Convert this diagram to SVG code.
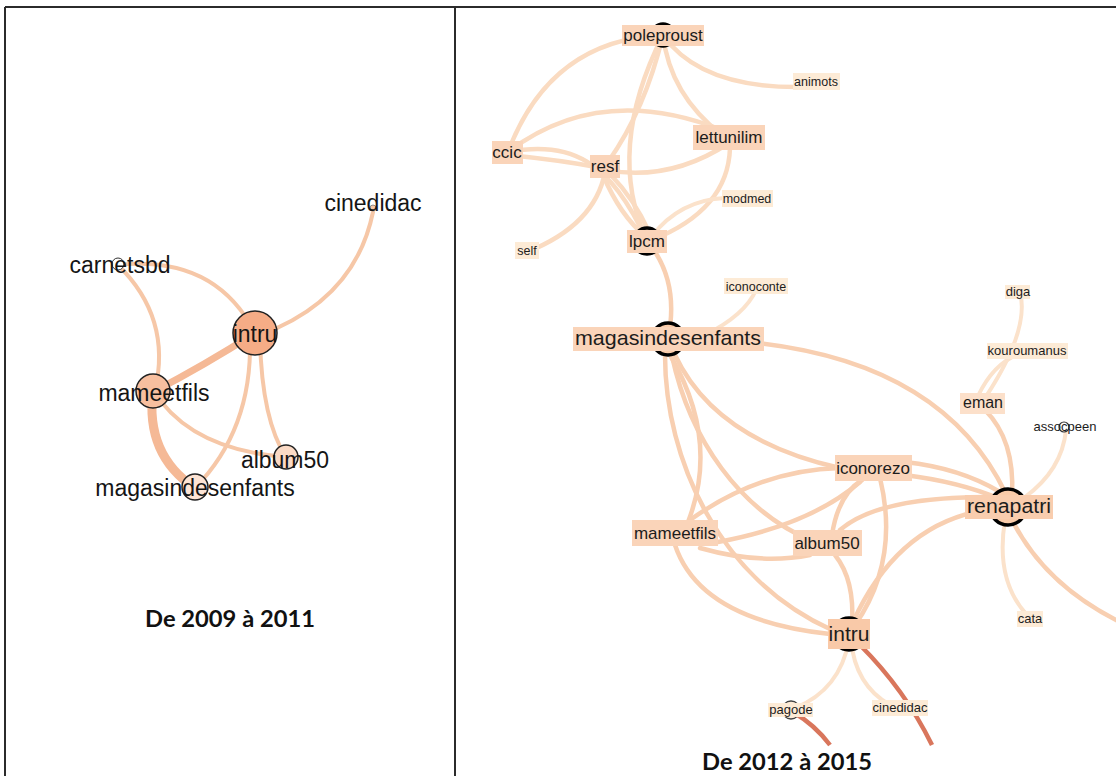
<svg xmlns="http://www.w3.org/2000/svg" width="1116" height="776" viewBox="0 0 1116 776">
<style>
.frame{stroke:#2b2b2b;stroke-width:2;fill:none}
.le{fill:none;stroke:#f6c7a7;stroke-width:4;stroke-linecap:round}
.lt{fill:none;stroke:#f5b996;stroke-linecap:round}
.ln{stroke:#222;stroke-width:1.5}
.lbl{font-family:"Liberation Sans",Arial,sans-serif;font-size:23px;fill:#151515;text-anchor:middle}
.title{font-family:Lato,"Open Sans",sans-serif;font-weight:700;font-size:22px;fill:#111;text-anchor:middle}
.et{fill:none;stroke:#fadbc1;stroke-width:4.5;stroke-linecap:round}
.em{fill:none;stroke:#f8cfb1;stroke-width:4.5;stroke-linecap:round}
.es{fill:none;stroke:#fbe2cb;stroke-width:4;stroke-linecap:round}
.ed{fill:none;stroke:#d9765c;stroke-width:4.5;stroke-linecap:butt}
.big{fill:#f9cba9;stroke:#000;stroke-width:3.5}
.b1{fill:#fad4b9}
.b2{fill:#fdebd6}
.b3{fill:#fce0ca}
.t{font-family:"Liberation Sans",Arial,sans-serif;fill:#1c1c1c;text-anchor:middle}
.tm{font-size:17px}
.ts{font-size:12.5px}
.tl{font-size:21px}
</style>

<g id="frame">
<line class="frame" x1="5" y1="7" x2="1116" y2="7"/>
<line class="frame" x1="5" y1="7" x2="5" y2="776"/>
<line class="frame" x1="455" y1="7" x2="455" y2="776"/>
</g>

<!-- LEFT PANEL 2009-2011 -->
<g id="left-connectors">
<path class="le" d="M118,265 Q215,255 255,333"/>
<path class="le" d="M118,265 Q172,318 155,390"/>
<path class="le" d="M373,212 Q355,300 260,335"/>
<path class="le" d="M153,390 Q190,450 286,457"/>
<path class="le" d="M250,340 Q252,430 195,488"/>
<path class="le" d="M260,340 Q262,420 286,457"/>
<path class="lt" stroke-width="7" d="M255,333 Q205,365 153,392"/>
<path class="lt" stroke-width="9" stroke="#f6c2a1" d="M153,390 Q145,455 195,488"/>
</g>

<g id="l-intru"><circle class="ln" cx="255" cy="333" r="22" fill="#f5ac86"/><text class="lbl" x="255" y="342">intru</text></g>
<g id="l-mameetfils"><circle class="ln" cx="153" cy="391" r="17" fill="#f7bf9f"/><text class="lbl" x="154" y="401">mameetfils</text></g>
<g id="l-album50"><circle class="ln" cx="286" cy="457" r="12" fill="#fbdac5"/><text class="lbl" x="285" y="468">album50</text></g>
<g id="l-magasindesenfants"><circle class="ln" cx="195" cy="487" r="13" fill="#fde4d4"/><text class="lbl" x="195" y="496">magasindesenfants</text></g>
<g id="l-carnetsbd"><circle cx="118" cy="264" r="6" fill="#fff" stroke="#333" stroke-width="1"/><text class="lbl" x="120" y="273">carnetsbd</text></g>
<g id="l-cinedidac"><circle cx="373" cy="208" r="3" fill="#f6c7a7" stroke="#777" stroke-width="0.8"/><text class="lbl" x="373" y="211">cinedidac</text></g>

<text class="title" x="230" y="627" textLength="170" lengthAdjust="spacingAndGlyphs">De 2009 à 2011</text>

<!-- RIGHT PANEL 2012-2015 -->
<g id="connectors">
<path class="et" d="M663,35 Q550,40 508,152"/>
<path class="et" d="M663,35 Q700,88 800,87"/>
<path class="et" d="M663,35 Q645,110 608,162"/>
<path class="et" d="M663,35 Q605,150 647,241"/>
<path class="et" d="M663,35 Q670,95 722,135"/>
<path class="et" d="M508,152 Q600,82 722,130"/>
<path class="et" d="M508,152 C570,140 610,160 647,241"/>
<path class="et" d="M508,155 Q560,160 602,168"/>
<path class="et" d="M605,170 Q670,182 729,143"/>
<path class="et" d="M603,175 Q620,215 645,236"/>
<path class="et" d="M610,174 Q635,200 649,232"/>
<path class="et" d="M605,172 Q595,225 527,252"/>
<path class="et" d="M730,148 Q728,210 652,240"/>
<path class="es" d="M725,198 Q680,200 652,236"/>
<path class="em" d="M647,241 Q680,280 668,339"/>
<path class="es" d="M756,290 Q745,315 705,335"/>
<path class="em" d="M668,339 Q930,335 1006,494"/>
<path class="em" d="M675,355 Q715,440 840,468"/>
<path class="em" d="M670,355 Q720,440 688,522"/>
<path class="em" d="M672,356 C690,440 740,510 810,540"/>
<path class="em" d="M665,355 C665,460 720,580 832,630"/>
<path class="em" d="M690,520 Q760,470 840,468"/>
<path class="em" d="M718,542 Q810,525 860,482"/>
<path class="em" d="M700,548 Q760,565 810,555"/>
<path class="em" d="M675,545 Q700,620 830,634"/>
<path class="em" d="M832,535 Q838,495 862,480"/>
<path class="em" d="M840,530 Q880,495 1000,497"/>
<path class="em" d="M905,462 Q960,468 1000,492"/>
<path class="em" d="M905,475 Q960,482 1000,499"/>
<path class="em" d="M880,478 Q900,560 855,625"/>
<path class="em" d="M835,555 Q855,580 852,625"/>
<path class="em" stroke="#f6c19f" stroke-width="5" d="M853,622 Q895,530 975,512"/>
<path class="em" d="M1012,495 Q1015,440 985,410"/>
<path class="es" d="M1025,497 Q1062,470 1066,430"/>
<path class="es" d="M1005,520 Q995,580 1027,615"/>
<path class="em" d="M1012,520 Q1045,585 1120,622"/>
<path class="es" d="M985,398 Q1030,330 1020,292"/>
<path class="es" d="M978,396 Q995,360 1025,352"/>
<path class="es" d="M849,640 Q840,690 795,708"/>
<path class="es" d="M851,640 Q855,685 890,705"/>
<path class="ed" d="M860,645 Q905,690 932,745"/>
<path class="ed" d="M793,712 Q815,725 830,745"/>
</g>

<g id="n-poleproust"><circle class="big" cx="663" cy="35" r="11"/><rect class="b1" x="622" y="25" width="82" height="21"/><text class="t tm" x="663" y="41">poleproust</text></g>
<g id="n-animots"><rect class="b2" x="793" y="73" width="47" height="17"/><text class="t ts" x="816" y="86">animots</text></g>
<g id="n-ccic"><rect class="b1" x="492" y="141" width="31" height="23"/><text class="t tm" x="507" y="158">ccic</text></g>
<g id="n-lettunilim"><rect class="b1" x="693" y="125" width="72" height="25"/><text class="t tm" x="729" y="143">lettunilim</text></g>
<g id="n-resf"><rect class="b1" x="590" y="155" width="30" height="23"/><text class="t tm" x="605" y="172">resf</text></g>
<g id="n-modmed"><rect class="b2" x="722" y="190" width="51" height="17"/><text class="t ts" x="747" y="203">modmed</text></g>
<g id="n-self"><rect class="b2" x="515" y="242" width="24" height="17"/><text class="t ts" x="527" y="255">self</text></g>
<g id="n-lpcm"><circle class="big" cx="647" cy="241" r="13"/><rect class="b1" x="627" y="230" width="40" height="23"/><text class="t tm" x="647" y="247">lpcm</text></g>
<g id="n-iconoconte"><rect class="b2" x="724" y="278" width="64" height="16"/><text class="t ts" x="756" y="291">iconoconte</text></g>
<g id="n-magasindesenfants"><circle class="big" cx="668" cy="339" r="16"/><rect class="b1" x="573" y="327" width="191" height="24"/><text class="t tl" x="668" y="345" textLength="186" lengthAdjust="spacingAndGlyphs">magasindesenfants</text></g>
<g id="n-iconorezo"><rect class="b1" x="835" y="455" width="77" height="26"/><text class="t tm" x="873" y="474">iconorezo</text></g>
<g id="n-mameetfils"><rect class="b1" x="632" y="520" width="86" height="26"/><text class="t tm" x="675" y="539">mameetfils</text></g>
<g id="n-album50"><rect class="b1" x="793" y="530" width="69" height="26"/><text class="t tm" x="827" y="549">album50</text></g>
<g id="n-intru"><circle class="big" cx="849" cy="634" r="16"/><rect x="828" y="619" width="42" height="30" fill="#f9c9a8"/><text class="t tl" x="849" y="641">intru</text></g>
<g id="n-renapatri"><circle class="big" cx="1008" cy="507" r="18"/><rect x="965" y="495" width="88" height="24" fill="#f9cdae"/><text class="t" font-size="20" x="1009" y="513" textLength="84" lengthAdjust="spacingAndGlyphs">renapatri</text></g>
<g id="n-eman"><rect class="b3" x="960" y="393" width="45" height="21"/><text class="t" font-size="16" x="983" y="408">eman</text></g>
<g id="n-kouroumanus"><rect class="b2" x="987" y="343" width="81" height="16"/><text class="t" font-size="13" x="1027" y="355">kouroumanus</text></g>
<g id="n-diga"><rect class="b2" x="1005" y="285" width="25" height="14"/><text class="t" font-size="13" x="1018" y="296">diga</text></g>
<g id="n-assocpeen"><circle cx="1064" cy="427" r="5" fill="#fff" stroke="#333" stroke-width="1.2"/><text class="t" font-size="13" x="1065" y="431">assocpeen</text></g>
<g id="n-cata"><rect class="b2" x="1017" y="611" width="26" height="16"/><text class="t" font-size="13" x="1030" y="623">cata</text></g>
<g id="n-pagode"><circle cx="791" cy="710" r="9" fill="#fdebd6" stroke="#444" stroke-width="1.3"/><rect class="b2" x="768" y="703" width="45" height="14"/><text class="t" font-size="13" x="791" y="714">pagode</text></g>
<g id="n-cinedidac"><rect class="b2" x="872" y="700" width="56" height="16"/><text class="t" font-size="13" x="900" y="712">cinedidac</text></g>

<text class="title" x="787" y="770" textLength="170" lengthAdjust="spacingAndGlyphs">De 2012 à 2015</text>
</svg>
